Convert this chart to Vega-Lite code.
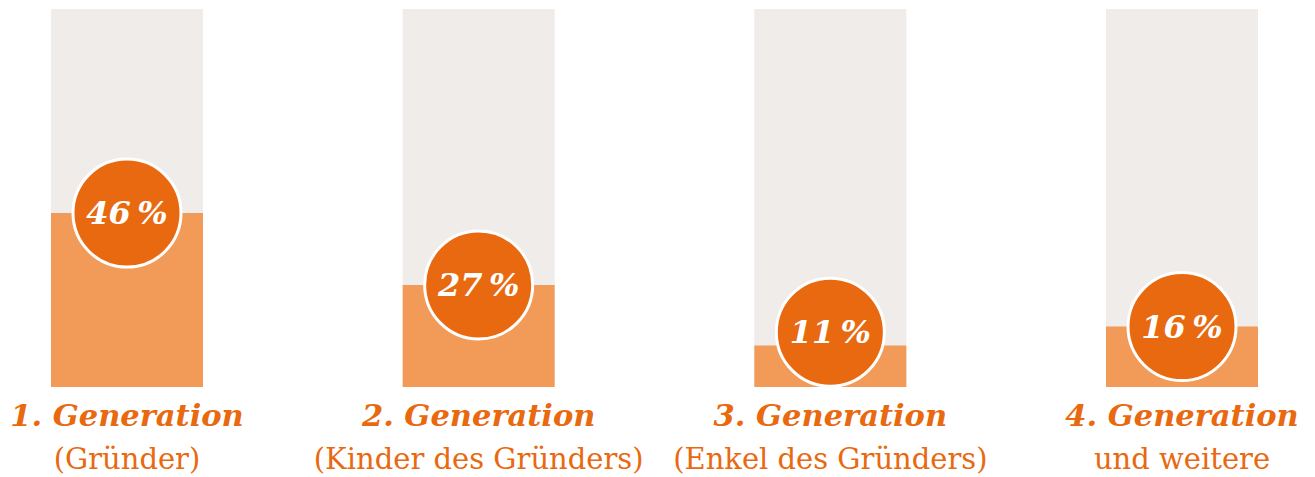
{
  "$schema": "https://vega.github.io/schema/vega-lite/v6.json",
  "width": 1315,
  "height": 477,
  "autosize": {"type": "fit", "contains": "padding"},
  "padding": {"left": 0, "top": 0, "bottom": 0, "right": 6},
  "background": "white",
  "config": {"view": {"stroke": null}},
  "data": {
    "values": [
      {"gen": "1", "value": 46, "title": "1. Generation", "sub": "(Gründer)"},
      {"gen": "2", "value": 27, "title": "2. Generation", "sub": "(Kinder des Gründers)"},
      {"gen": "3", "value": 11, "title": "3. Generation", "sub": "(Enkel des Gründers)"},
      {"gen": "4", "value": 16, "title": "4. Generation", "sub": "und weitere"}
    ]
  },
  "transform": [
    {"calculate": "max(datum.value, 14.5)", "as": "circleY"},
    {"calculate": "datum.value + '\u2009%'", "as": "label"}
  ],
  "encoding": {
    "x": {"field": "gen", "type": "nominal", "axis": null,
          "scale": {"paddingInner": 0.5678, "paddingOuter": 0.145}}
  },
  "layer": [
    {
      "mark": {"type": "bar", "color": "#EFECE9"},
      "encoding": {
        "y": {"datum": 100, "type": "quantitative", "axis": null, "scale": {"domain": [-23.81, 102.38], "nice": false, "zero": false}},
        "y2": {"datum": 0}
      }
    },
    {
      "mark": {"type": "bar", "color": "#F29A58"},
      "encoding": {
        "y": {"field": "value", "type": "quantitative"},
        "y2": {"datum": 0}
      }
    },
    {
      "mark": {"type": "point", "shape": "circle", "filled": true, "fill": "#E8690F", "stroke": "white", "strokeWidth": 3, "opacity": 1, "size": 11664},
      "encoding": {
        "y": {"field": "circleY", "type": "quantitative"}
      }
    },
    {
      "mark": {"type": "text", "font": "DejaVu Serif", "fontWeight": "bold", "fontStyle": "italic", "fontSize": 32, "color": "white", "baseline": "middle", "align": "center", "dy": 1},
      "encoding": {
        "y": {"field": "circleY", "type": "quantitative"},
        "text": {"field": "label"}
      }
    },
    {
      "mark": {"type": "text", "font": "DejaVu Serif", "fontWeight": "bold", "fontStyle": "italic", "fontSize": 30.5, "color": "#E8690F", "baseline": "middle", "align": "center"},
      "encoding": {
        "y": {"datum": -7.9},
        "text": {"field": "title"}
      }
    },
    {
      "mark": {"type": "text", "font": "DejaVu Serif", "fontSize": 29, "color": "#E8690F", "baseline": "middle", "align": "center"},
      "encoding": {
        "y": {"datum": -19.2},
        "text": {"field": "sub"}
      }
    }
  ]
}
